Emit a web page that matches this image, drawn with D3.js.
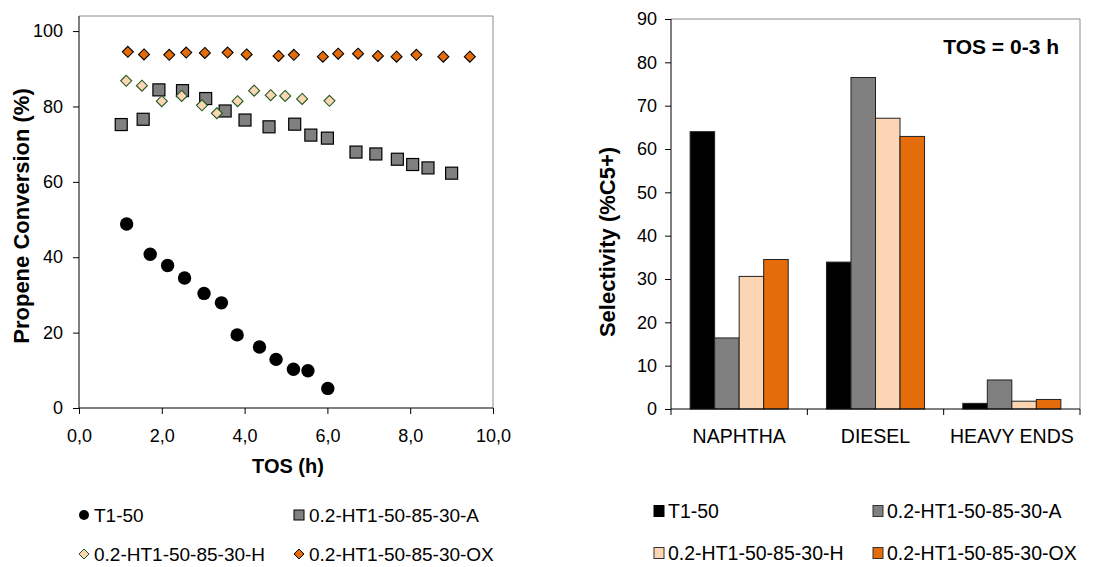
<!DOCTYPE html>
<html>
<head>
<meta charset="utf-8">
<script src="https://cdn.jsdelivr.net/npm/d3@7"></script>
<style>
  body { margin: 0; background: #fff; }
  svg { font-family: Arial, "Liberation Sans", sans-serif; }
</style>
</head>
<body>
<svg id="chart" width="1107" height="567"></svg>
<script>
// series names
const seriesNames = ["T1-50", "0.2-HT1-50-85-30-A", "0.2-HT1-50-85-30-H", "0.2-HT1-50-85-30-OX"];

// conversion vs TOS, [TOS h, conversion %]
const t150 = [[1.15, 48.8], [1.72, 40.8], [2.14, 37.8], [2.55, 34.5], [3.02, 30.4], [3.44, 27.9],
  [3.82, 19.4], [4.36, 16.2], [4.76, 12.9], [5.18, 10.3], [5.53, 9.9], [6.01, 5.2]];
const htA = [[1.02, 75.2], [1.55, 76.6], [1.93, 84.4], [2.50, 84.2], [3.06, 82.1], [3.53, 78.8],
  [4.01, 76.4], [4.59, 74.6], [5.21, 75.3], [5.60, 72.4], [6.00, 71.6], [6.69, 67.9],
  [7.17, 67.4], [7.69, 66.0], [8.06, 64.6], [8.43, 63.7], [9.00, 62.3]];
const htH = [[1.14, 86.8], [1.52, 85.5], [2.00, 81.4], [2.48, 82.8], [2.97, 80.3], [3.33, 78.2],
  [3.83, 81.4], [4.23, 84.2], [4.63, 83.0], [4.98, 82.8], [5.39, 82.0], [6.05, 81.5]];
const htOX = [[1.18, 94.5], [1.57, 93.8], [2.18, 93.7], [2.59, 94.3], [3.04, 94.2], [3.59, 94.3],
  [4.05, 93.8], [4.82, 93.4], [5.19, 93.7], [5.89, 93.2], [6.26, 94.0], [6.74, 94.0],
  [7.22, 93.4], [7.67, 93.2], [8.15, 93.7], [8.80, 93.2], [9.44, 93.2]];

// selectivity TOS = 0-3 h
const fractions = ["NAPHTHA", "DIESEL", "HEAVY ENDS"];
const selT150 = [64.0, 33.9, 1.3];
const selA = [16.4, 76.5, 6.7];
const selH = [30.6, 67.1, 1.8];
const selOX = [34.5, 62.9, 2.2];

const xTicks = [0, 2, 4, 6, 8, 10];
const yTicksL = [0, 20, 40, 60, 80, 100];
const yTicksR = [0, 10, 20, 30, 40, 50, 60, 70, 80, 90];

const svg = d3.select("#chart");
const tickFont = "18px";
const yTitleFont = "22px";

function diamondPath(h) { return `M0,${-h}L${h},0L0,${h}L${-h},0Z`; }

// ---------- left: scatter ----------
const L = { left: 79, right: 493, top: 16, bottom: 408 };
const x = d3.scaleLinear().domain([0, 10]).range([L.left, L.right]);
const y = d3.scaleLinear().domain([0, 104]).range([L.bottom, L.top]);

svg.append("path")
  .attr("d", `M${L.left},${L.top}H${L.right}V${L.bottom}`)
  .attr("fill", "none").attr("stroke", "#8c8c8c").attr("stroke-width", 1);

const fmt = d3.format(".1f");
const gx = svg.append("g").attr("transform", `translate(0,${L.bottom})`)
  .call(d3.axisBottom(x).tickValues(xTicks).tickSize(6).tickSizeOuter(0)
    .tickFormat(d => fmt(d).replace(".", ",")));
const gy = svg.append("g").attr("transform", `translate(${L.left},0)`)
  .call(d3.axisLeft(y).tickValues(yTicksL).tickSize(6).tickSizeOuter(0));
[gx, gy].forEach(g => {
  g.select(".domain").attr("stroke", "#000");
  g.selectAll(".tick line").attr("stroke", "#000");
  g.selectAll("text").style("font-size", tickFont).attr("fill", "#000");
});
gx.select(".domain").attr("d", `M${L.left},0H${L.right}`);
gy.select(".domain").attr("d", `M0,${L.top}V${L.bottom}`);
gx.selectAll("text").attr("y", 34).attr("dy", 0);
gy.selectAll("text").attr("x", -16);

svg.append("text").attr("x", 288).attr("y", 473)
  .attr("text-anchor", "middle").style("font-size", "20px").style("font-weight", "bold")
  .text("TOS (h)");
svg.append("text").attr("transform", "translate(29,216) rotate(-90)")
  .attr("text-anchor", "middle").style("font-size", yTitleFont).style("font-weight", "bold")
  .text("Propene Conversion (%)");

// A squares
svg.append("g").selectAll("rect").data(htA).join("rect")
  .attr("x", d => x(d[0]) - 6).attr("y", d => y(d[1]) - 6)
  .attr("width", 12).attr("height", 12)
  .attr("fill", "#808080").attr("stroke", "#000").attr("stroke-width", 1.2);
// H diamonds
svg.append("g").selectAll("path").data(htH).join("path")
  .attr("transform", d => `translate(${x(d[0])},${y(d[1])})`)
  .attr("d", diamondPath(5.5))
  .attr("fill", "#FCD5B5").attr("stroke", "#1E5A1E").attr("stroke-width", 1.1);
// OX diamonds
svg.append("g").selectAll("path").data(htOX).join("path")
  .attr("transform", d => `translate(${x(d[0])},${y(d[1])})`)
  .attr("d", diamondPath(5.5))
  .attr("fill", "#E46C0A").attr("stroke", "#000").attr("stroke-width", 1.1);
// T1-50 circles
svg.append("g").selectAll("circle").data(t150).join("circle")
  .attr("cx", d => x(d[0])).attr("cy", d => y(d[1])).attr("r", 6.7)
  .attr("fill", "#000");

// left legend
const legL = svg.append("g").style("font-size", "19px");
const legPosL = [[84, 515], [299, 515], [84, 554], [299, 554]];
legPosL.forEach((p, i) => {
  const g = legL.append("g").attr("transform", `translate(${p[0]},${p[1]})`);
  if (i === 0) g.append("circle").attr("r", 5).attr("fill", "#000");
  if (i === 1) g.append("rect").attr("x", -5).attr("y", -5).attr("width", 10).attr("height", 10)
    .attr("fill", "#808080").attr("stroke", "#000");
  if (i === 2) g.append("path").attr("d", diamondPath(5)).attr("fill", "#FCD5B5").attr("stroke", "#1E5A1E");
  if (i === 3) g.append("path").attr("d", diamondPath(5)).attr("fill", "#E46C0A").attr("stroke", "#000");
  g.append("text").attr("x", 10).attr("dy", "0.35em").text(seriesNames[i]);
});

// ---------- right: bars ----------
const R = { left: 671, right: 1080, top: 19, bottom: 409 };
const xb = d3.scaleBand().domain(fractions).range([R.left, R.right]).paddingInner(0).paddingOuter(0);
const xs = d3.scaleBand().domain(seriesNames).range([0, xb.bandwidth()]).paddingInner(0).paddingOuter(0.78);
const yb = d3.scaleLinear().domain([0, 90]).range([R.bottom, R.top]);

svg.append("path")
  .attr("d", `M${R.left},${R.top}H${R.right}V${R.bottom}`)
  .attr("fill", "none").attr("stroke", "#8c8c8c").attr("stroke-width", 1);

const barColors = ["#000000", "#808080", "#FCD5B5", "#E46C0A"];
const selSeries = [selT150, selA, selH, selOX];
fractions.forEach((f, fi) => {
  const g = svg.append("g").attr("transform", `translate(${xb(f)},0)`);
  g.selectAll("rect").data(seriesNames).join("rect")
    .attr("x", s => xs(s)).attr("width", xs.bandwidth())
    .attr("y", (s, si) => yb(selSeries[si][fi]))
    .attr("height", (s, si) => yb(0) - yb(selSeries[si][fi]))
    .attr("fill", (s, si) => barColors[si])
    .attr("stroke", "#222").attr("stroke-width", 1);
});

const gyb = svg.append("g").attr("transform", `translate(${R.left},0)`)
  .call(d3.axisLeft(yb).tickValues(yTicksR).tickSize(6).tickSizeOuter(0));
gyb.select(".domain").attr("d", `M0,${R.top}V${R.bottom}`).attr("stroke", "#000");
gyb.selectAll(".tick line").attr("stroke", "#000");
gyb.selectAll("text").style("font-size", tickFont).attr("fill", "#000").attr("x", -14);

const gxb = svg.append("g").attr("transform", `translate(0,${R.bottom})`);
gxb.append("path").attr("d", `M${R.left},0H${R.right}`).attr("stroke", "#000");
gxb.selectAll("line").data([R.left, ...fractions.map(f => xb(f) + xb.bandwidth())]).join("line")
  .attr("x1", d => d).attr("x2", d => d).attr("y1", 0).attr("y2", 6).attr("stroke", "#000");
gxb.selectAll("text").data(fractions).join("text")
  .attr("x", f => xb(f) + xb.bandwidth() / 2).attr("y", 34)
  .attr("text-anchor", "middle").style("font-size", "19.5px").text(f => f);

svg.append("text").attr("transform", "translate(615,242) rotate(-90)")
  .attr("text-anchor", "middle").style("font-size", yTitleFont).style("font-weight", "bold")
  .text("Selectivity (%C5+)");
svg.append("text").attr("x", 1059).attr("y", 54).attr("text-anchor", "end")
  .style("font-size", "21px").style("font-weight", "bold").text("TOS = 0-3 h");

// right legend
const legR = svg.append("g").style("font-size", "19.5px");
const legPosR = [[659, 511], [878, 511], [659, 553], [878, 553]];
legPosR.forEach((p, i) => {
  const g = legR.append("g").attr("transform", `translate(${p[0]},${p[1]})`);
  g.append("rect").attr("x", -5).attr("y", -5.5).attr("width", 10).attr("height", 11)
    .attr("fill", barColors[i]).attr("stroke", i === 0 ? "#000" : "#333");
  g.append("text").attr("x", 9).attr("dy", "0.37em").text(seriesNames[i]);
});
</script>
</body>
</html>
